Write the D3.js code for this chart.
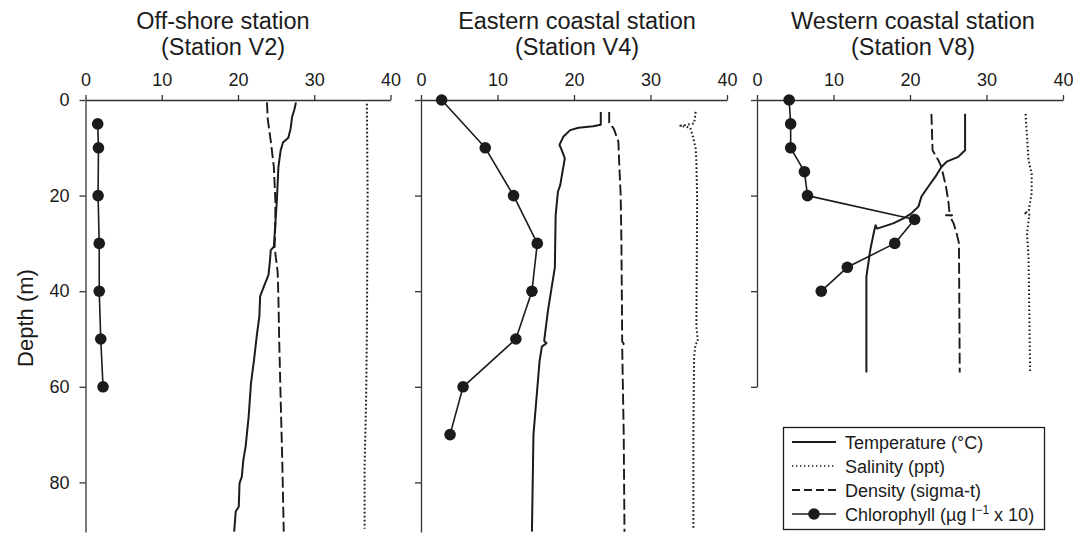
<!DOCTYPE html>
<html>
<head>
<meta charset="utf-8">
<script src="https://cdn.jsdelivr.net/npm/d3@7"></script>
<style>
  body { margin: 0; background: #fff; }
  svg { font-family: "Liberation Sans", Arial, Helvetica, sans-serif; }
</style>
</head>
<body>
<svg id="chart" width="1073" height="535"></svg>
<script>
// ---- data: [depth (m), value] pairs ----
var xTicks = [0, 10, 20, 30, 40];
var depthTicks = [0, 20, 40, 60, 80];

var titlesTop = ["Off-shore station", "Eastern coastal station", "Western coastal station"];
var titlesBottom = ["(Station V2)", "(Station V4)", "(Station V8)"];

// Station V2
var v2Temperature = [[0.5,27.6],[2,27.4],[3.5,27.1],[6,26.9],[7.9,26.6],[8.9,25.9],[10.5,25.6],[14,25.3],
  [20.9,25.1],[30.7,24.7],[31.4,24.3],[33.5,24.2],[36.6,24.0],[39,23.4],[41.1,22.9],[45.3,22.8],[48.8,22.5],
  [54.4,22.1],[59.3,21.7],[66.2,21.4],[72.5,21.0],[75.3,20.7],[78.8,20.5],[80.2,20.2],[85.1,20.1],[86.1,19.7],[90.3,19.5]];
var v2Salinity = [[0.8,36.9],[20,37.0],[48.8,36.9],[63,36.8],[76.7,36.6],[89.7,36.6]];
var v2Density = [[0.5,23.8],[4,23.9],[8.6,24.3],[14,24.7],[21,24.9],[26,24.9],[30.8,24.8],[36,25.2],
  [41.4,25.3],[50,25.4],[63,25.6],[75,25.8],[90.3,26.0]];
var v2ChlDepth = [5, 10, 20, 30, 40, 50, 60];
var v2Chl = [1.6, 1.7, 1.65, 1.8, 1.8, 2.0, 2.3];

// Station V4
var v4Temperature = [[2.5,23.5],[5.2,23.5],[5.5,22.5],[5.8,20.6],[6.3,19.5],[7.7,18.6],[9.4,18.1],[10.5,18.4],
  [12.2,18.8],[15,18.5],[17.8,18.2],[19.2,17.9],[24.1,17.6],[35,17.5],[44,16.6],[50.4,16.1],[50.9,16.4],
  [51.6,15.8],[54.6,15.5],[70,14.7],[90.3,14.5]];
var v4Salinity = [[2.5,35.9],[4.9,35.7],[5.4,33.9],[5.6,34.6],[5.8,35.2],[8,35.6],[10.1,35.9],[12.9,36.0],
  [21,36.1],[47.4,36.0],[50.6,36.2],[51,35.9],[53.8,35.7],[70,35.6],[89.6,35.6]];
var v4Density = [[2.5,24.6],[4.8,24.6],[5.4,24.9],[6,25.2],[8.7,25.8],[12.9,25.9],[19.9,26.1],[30,26.2],
  [40,26.25],[50.5,26.3],[51,26.5],[51.6,26.3],[70,26.5],[90.3,26.6]];
var v4ChlDepth = [0, 10, 20, 30, 40, 50, 60, 70];
var v4Chl = [2.7, 8.4, 12.1, 15.2, 14.5, 12.4, 5.5, 3.8];

// Station V8
var v8Temperature = [[2.9,27.2],[10.5,27.2],[11.9,26.3],[12.9,24.8],[14,24.1],[16.1,23.3],[18.1,22.4],
  [20.2,21.5],[22.3,21.1],[23.7,20.2],[24.8,19.1],[25.8,17.8],[26.5,16.5],[26.9,15.7],[26.2,15.5],
  [27.5,15.3],[31.4,14.8],[37,14.3],[57,14.3]];
var v8Salinity = [[2.9,35.1],[12.6,35.5],[15.4,35.9],[19.5,35.9],[23.4,35.5],[23.6,34.9],[24,35.6],
  [27.9,35.3],[33,35.5],[57,35.7]];
var v8Density = [[2.9,22.8],[10.5,22.95],[12.6,23.7],[14,24.1],[18.1,24.7],[21,25.0],[24.1,25.2],
  [24.1,24.7],[24.1,25.5],[24.3,25.2],[25.8,25.7],[27.9,26.1],[30,26.4],[57,26.5]];
var v8ChlDepth = [0, 5, 10, 15, 20, 25, 30, 35, 40];
var v8Chl = [4.2, 4.4, 4.4, 6.2, 6.6, 20.6, 18.0, 11.8, 8.4];

var legendLabels = ["Temperature (\u00B0C)", "Salinity (ppt)", "Density  (sigma-t)", "Chlorophyll (\u00B5g l"];

// ---- layout ----
var ink = "#1b1b1b";
var plotTop = 100, pxPerMetre = 4.78;
var panels = [
  {x0: 85.5, x1: 390.5, maxDepth: 90.4, labels: true,
   temp: v2Temperature, sal: v2Salinity, dens: v2Density, chl: d3.zip(v2ChlDepth, v2Chl)},
  {x0: 421, x1: 727, maxDepth: 90.4, labels: false,
   temp: v4Temperature, sal: v4Salinity, dens: v4Density, chl: d3.zip(v4ChlDepth, v4Chl)},
  {x0: 757, x1: 1063, maxDepth: 60, labels: false,
   temp: v8Temperature, sal: v8Salinity, dens: v8Density, chl: d3.zip(v8ChlDepth, v8Chl)}
];

var svg = d3.select("#chart");

panels.forEach(function(p, i) {
  var x = d3.scaleLinear().domain([0, 40]).range([p.x0, p.x1]);
  var y = d3.scaleLinear().domain([0, p.maxDepth]).range([plotTop, plotTop + p.maxDepth * pxPerMetre]);

  var line = d3.line().x(function(d) { return x(d[1]); }).y(function(d) { return y(d[0]); });

  // titles
  var cx = (p.x0 + p.x1) / 2 + (i === 0 ? -15 : 3);
  svg.append("text").attr("x", cx).attr("y", 29).attr("text-anchor", "middle")
    .attr("font-size", 23.5).attr("fill", ink).text(titlesTop[i]);
  svg.append("text").attr("x", cx).attr("y", 55).attr("text-anchor", "middle")
    .attr("font-size", 23.5).attr("fill", ink).text(titlesBottom[i]);

  // axes
  var axX = d3.axisTop(x).tickValues(xTicks).tickSizeInner(5).tickSizeOuter(0).tickPadding(9);
  var gx = svg.append("g").attr("transform", "translate(0," + plotTop + ")").call(axX);
  var axY = d3.axisLeft(y).tickValues(depthTicks.filter(function(t) { return t <= p.maxDepth; }))
    .tickSizeInner(6).tickSizeOuter(0).tickPadding(10);
  if (!p.labels) axY.tickFormat("");
  var gy = svg.append("g").attr("transform", "translate(" + p.x0 + ",0)").call(axY);
  [gx, gy].forEach(function(g) {
    g.selectAll("path, line").attr("stroke", "#333").attr("stroke-width", 1.3);
    g.selectAll("text").attr("font-size", 18).attr("fill", ink)
      .attr("font-family", "'Liberation Sans', Arial, sans-serif");
  });

  var g = svg.append("g").attr("fill", "none").attr("stroke", ink).attr("stroke-linejoin", "round");
  g.append("path").datum(p.sal).attr("d", line).attr("stroke-width", 2)
    .attr("stroke-dasharray", "1.6,2.4").attr("stroke-linecap", "butt");
  g.append("path").datum(p.dens).attr("d", line).attr("stroke-width", 1.9)
    .attr("stroke-dasharray", "11,4");
  g.append("path").datum(p.temp).attr("d", line).attr("stroke-width", 2);
  g.append("path").datum(p.chl).attr("d", line).attr("stroke-width", 1.6);
  svg.append("g").selectAll("circle").data(p.chl).join("circle")
    .attr("cx", function(d) { return x(d[1]); })
    .attr("cy", function(d) { return y(d[0]); })
    .attr("r", 5.8).attr("fill", ink);
});

// y-axis title
svg.append("text").attr("transform", "translate(33,318) rotate(-90)")
  .attr("text-anchor", "middle").attr("font-size", 22).attr("fill", ink).text("Depth (m)");

// ---- legend ----
var lg = svg.append("g");
lg.append("rect").attr("x", 783.5).attr("y", 427.5).attr("width", 261).attr("height", 102)
  .attr("fill", "#fff").attr("stroke", ink).attr("stroke-width", 1.3);
var rowY = d3.scalePoint().domain(d3.range(4)).range([442, 514]);
var styles = [
  {dash: null, w: 2}, {dash: "1.4,2.6", w: 1.4}, {dash: "8,4", w: 1.9}, {dash: null, w: 1.6}
];
styles.forEach(function(s, k) {
  var yy = rowY(k);
  var ln = lg.append("line").attr("x1", 792).attr("x2", 836).attr("y1", yy).attr("y2", yy)
    .attr("stroke", ink).attr("stroke-width", s.w);
  if (s.dash) ln.attr("stroke-dasharray", s.dash);
  if (k === 3) lg.append("circle").attr("cx", 814).attr("cy", yy).attr("r", 5.8).attr("fill", ink);
  var t = lg.append("text").attr("x", 845).attr("y", yy + 6.5).attr("font-size", 18).attr("fill", ink)
    .text(legendLabels[k]);
  if (k === 3) {
    t.append("tspan").attr("dy", -7).attr("font-size", 12).text("\u22121");
    t.append("tspan").attr("dy", 7).text(" x 10)");
  }
});
</script>
</body>
</html>
